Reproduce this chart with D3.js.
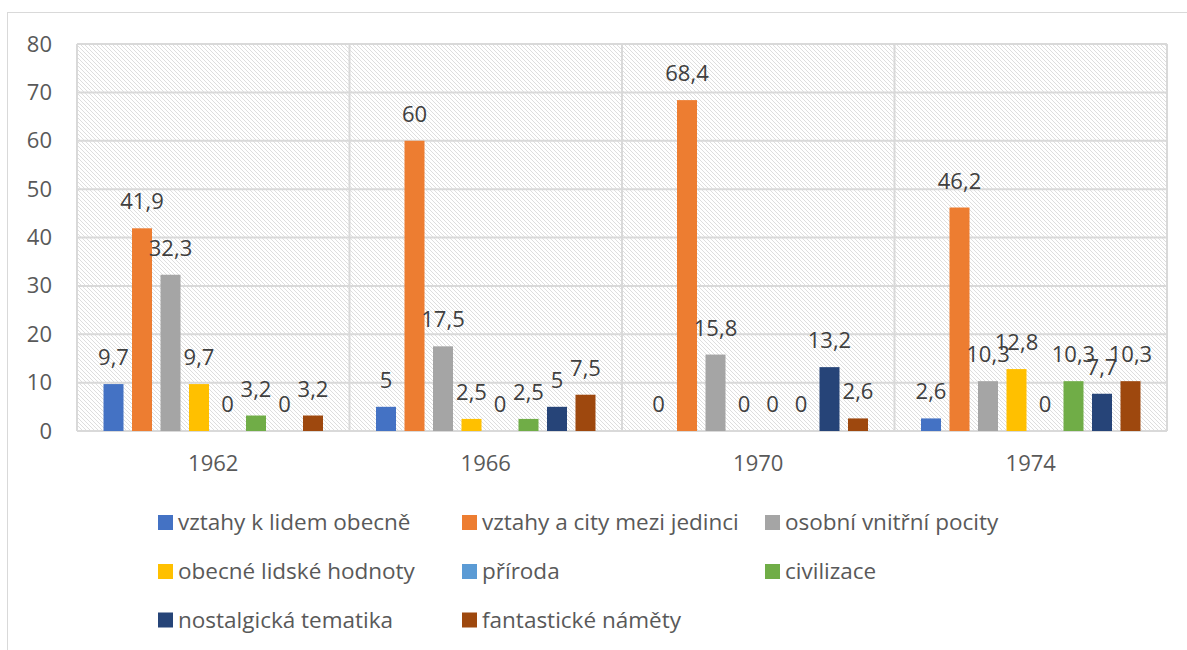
<!DOCTYPE html>
<html>
<head>
<meta charset="utf-8">
<script src="https://cdn.jsdelivr.net/npm/d3@7"></script>
<style>
  html, body { margin: 0; padding: 0; background: #fff; }
  svg { display: block; font-family: "Open Sans", sans-serif; }
</style>
</head>
<body>
<svg id="chart" width="1187" height="650"></svg>
<script>
// Categories (years) and series
const years = ["1962", "1966", "1970", "1974"];
const seriesNames = [
  "vztahy k lidem obecně",
  "vztahy a city mezi jedinci",
  "osobní vnitřní pocity",
  "obecné lidské hodnoty",
  "příroda",
  "civilizace",
  "nostalgická tematika",
  "fantastické náměty"
];
const seriesColors = ["#4472C4", "#ED7D31", "#A5A5A5", "#FFC000", "#5B9BD5", "#70AD47", "#264478", "#9E480E"];

// One array per series, values per year
const vztahyObecne   = [9.7, 5, 0, 2.6];
const vztahyCity     = [41.9, 60, 68.4, 46.2];
const osobniPocity   = [32.3, 17.5, 15.8, 10.3];
const obecneHodnoty  = [9.7, 2.5, 0, 12.8];
const priroda        = [0, 0, 0, 0];
const civilizace     = [3.2, 2.5, 0, 10.3];
const nostalgicka    = [0, 5, 13.2, 7.7];
const fantasticke    = [3.2, 7.5, 2.6, 10.3];
const seriesValues = [vztahyObecne, vztahyCity, osobniPocity, obecneHodnoty, priroda, civilizace, nostalgicka, fantasticke];

const yTicks = [0, 10, 20, 30, 40, 50, 60, 70, 80];

const svg = d3.select("#chart");
const plot = { left: 77, top: 44, right: 1167, bottom: 431 };

// Outer chart frame
svg.append("rect")
  .attr("x", 7.5).attr("y", 12.5)
  .attr("width", 1200).attr("height", 700)
  .attr("fill", "#fff").attr("stroke", "#d9d9d9").attr("stroke-width", 1);

// Diagonal hatch for the plot area background
const defs = svg.append("defs");
const pat = defs.append("pattern")
  .attr("id", "hatch")
  .attr("patternUnits", "userSpaceOnUse")
  .attr("width", 4).attr("height", 4);
pat.append("rect").attr("width", 4).attr("height", 4).attr("fill", "#fff");
pat.append("path")
  .attr("d", "M-1,-1 L5,5 M-1,3 L1,5 M3,-1 L5,1")
  .attr("stroke", "#dedede").attr("stroke-width", 1);

const x0 = d3.scaleBand().domain(years).range([plot.left, plot.right]).padding(0);
const x1 = d3.scaleBand().domain(d3.range(seriesNames.length))
  .range([0, x0.bandwidth()]).paddingInner(0.298).paddingOuter(0.93);
const y = d3.scaleLinear().domain([0, 80]).range([plot.bottom, plot.top]);

svg.append("rect")
  .attr("x", plot.left).attr("y", plot.top)
  .attr("width", plot.right - plot.left).attr("height", plot.bottom - plot.top)
  .attr("fill", "url(#hatch)");

// Horizontal gridlines
svg.append("g")
  .selectAll("line").data(yTicks).join("line")
  .attr("x1", plot.left).attr("x2", plot.right)
  .attr("y1", d => y(d)).attr("y2", d => y(d))
  .attr("stroke", "#d9d9d9").attr("stroke-width", 2);

// Vertical category separators
const sep = years.map(d => x0(d)).concat([plot.right]);
svg.append("g")
  .selectAll("line").data(sep).join("line")
  .attr("x1", d => d).attr("x2", d => d)
  .attr("y1", plot.top).attr("y2", plot.bottom)
  .attr("stroke", "#d9d9d9").attr("stroke-width", 2);

// Y axis labels
const yAxis = d3.axisLeft(y).tickValues(yTicks).tickSize(0).tickPadding(0);
const gy = svg.append("g").attr("transform", `translate(${plot.left - 25},0)`).call(yAxis);
gy.select(".domain").remove();
gy.selectAll("text")
  .attr("font-family", "Open Sans").attr("font-size", 22).attr("fill", "#595959");

// X axis labels
const xAxis = d3.axisBottom(x0).tickSize(0).tickPadding(0);
const gx = svg.append("g").attr("transform", `translate(0,${plot.bottom + 24})`).call(xAxis);
gx.select(".domain").remove();
gx.selectAll("text")
  .attr("font-family", "Open Sans").attr("font-size", 22).attr("fill", "#595959");

// Bars
const cells = [];
years.forEach((yr, i) => {
  seriesValues.forEach((vals, s) => cells.push({ year: yr, s, v: vals[i] }));
});

const groups = svg.append("g");
groups.selectAll("rect").data(cells).join("rect")
  .attr("x", d => x0(d.year) + x1(d.s))
  .attr("y", d => y(d.v))
  .attr("width", x1.bandwidth())
  .attr("height", d => y(0) - y(d.v))
  .attr("fill", d => seriesColors[d.s]);

// Value labels
const fmt = v => String(v).replace(".", ",");
groups.selectAll("text").data(cells).join("text")
  .attr("x", d => x0(d.year) + x1(d.s) + x1.bandwidth() / 2)
  .attr("y", d => y(d.v) - 19)
  .attr("text-anchor", "middle")
  .attr("font-family", "Open Sans").attr("font-size", 22).attr("fill", "#404040")
  .text(d => fmt(d.v));

// Legend
const legendCols = [158, 462, 765];
const legendRows = [522.5, 571.5, 620];
const legend = svg.append("g");
seriesNames.forEach((name, i) => {
  const cx = legendCols[i % 3], cy = legendRows[Math.floor(i / 3)];
  legend.append("rect")
    .attr("x", cx).attr("y", cy - 7.5)
    .attr("width", 15).attr("height", 15)
    .attr("fill", seriesColors[i]);
  legend.append("text")
    .attr("x", cx + 20).attr("y", cy)
    .attr("dy", "0.35em")
    .attr("font-family", "Open Sans").attr("font-size", 22.5).attr("fill", "#595959")
    .text(name);
});
</script>
</body>
</html>
